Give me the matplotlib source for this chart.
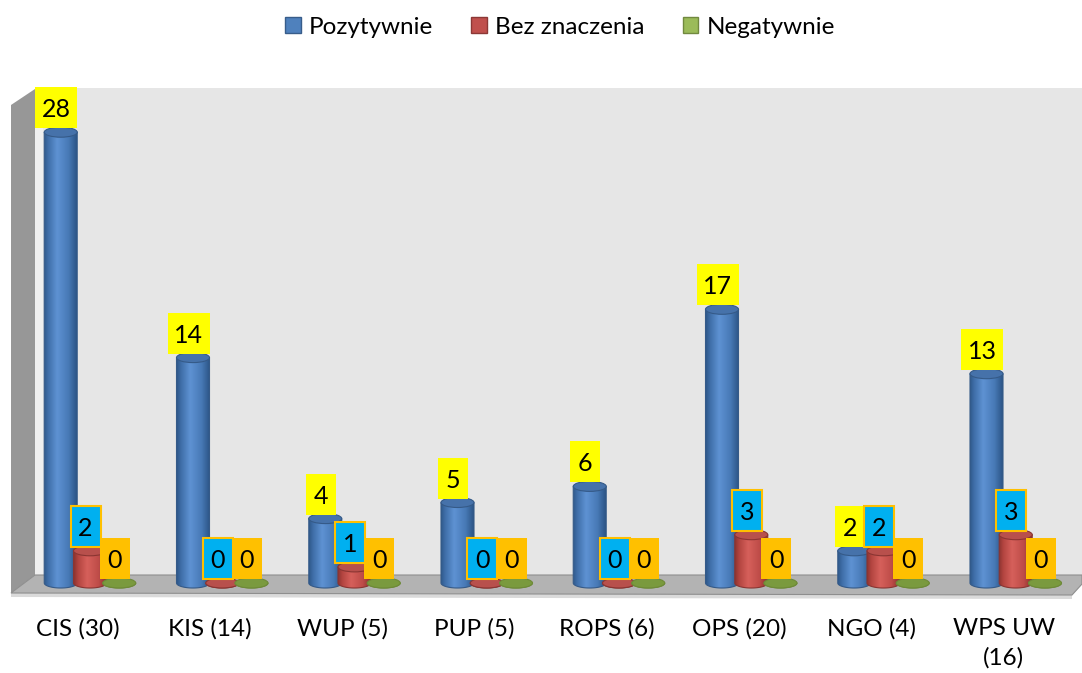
import numpy as np
import matplotlib.pyplot as plt
from matplotlib.colors import to_rgb
from matplotlib.patches import Ellipse, Polygon, Rectangle, Patch

# Ocena wpływu wg typu instytucji
categories = ['CIS (30)', 'KIS (14)', 'WUP (5)', 'PUP (5)', 'ROPS (6)',
              'OPS (20)', 'NGO (4)', 'WPS UW\n(16)']
pozytywnie = [28, 14, 4, 5, 6, 17, 2, 13]
bez_znaczenia = [2, 0, 1, 0, 0, 3, 2, 3]
negatywnie = [0, 0, 0, 0, 0, 0, 0, 0]
series_names = ['Pozytywnie', 'Bez znaczenia', 'Negatywnie']

plt.rcParams['font.family'] = ['Lato', 'DejaVu Sans']

W, H = 1082, 673
fig = plt.figure(figsize=(W / 100, H / 100), dpi=100)
ax = fig.add_axes([0, 0, 1, 1])
ax.set_axis_off()

# one category = 132.25 px, one unit of value = 16.1 px, zero at row 583
X0, XS = 90, 132.25
Y0, YS = 583, 16.1


def fx(px):
    return (px - X0) / XS


def fy(py):
    return (Y0 - py) / YS


BAR_W = 33 / XS
CAP_H = 10 / YS
STEP = 29.25 / XS


def shade(stops, n=64):
    pos = [p for p, _ in stops]
    cols = np.array([to_rgb(c) for _, c in stops])
    t = np.linspace(0, 1, n)
    img = np.stack([np.interp(t, pos, cols[:, k]) for k in range(3)], axis=-1)
    return img[np.newaxis, :, :]


def cylinder(x, v, body, cap, edge, z):
    l, r = x - BAR_W / 2, x + BAR_W / 2
    t = np.linspace(np.pi, 2 * np.pi, 40)
    arc = np.column_stack([x + BAR_W / 2 * np.cos(t), CAP_H / 2 * np.sin(t)])
    outline = np.vstack([[[l, v]], arc, [[r, v]]])
    poly = Polygon(outline, closed=True, facecolor='none', edgecolor=edge,
                   lw=0.8, zorder=z + 0.2)
    ax.add_patch(poly)
    im = ax.imshow(shade(body), extent=(l, r, -CAP_H / 2, v), aspect='auto',
                   interpolation='bilinear', zorder=z)
    im.set_clip_path(poly)
    ax.add_patch(Ellipse((x, v), BAR_W, CAP_H, facecolor=cap, edgecolor=edge,
                         lw=0.8, zorder=z + 0.3))


def value_box(x, v, face, edge, z):
    s = str(v)
    w = (18 + 12 * len(s)) / XS
    h = 41 / YS
    x0 = x - 4.5 / XS - w / 2
    y0 = v + 4 / YS
    ax.add_patch(Rectangle((x0, y0), w, h, facecolor=face,
                           edgecolor=edge if edge else 'none', lw=1.5, zorder=z))
    ax.text(x0 + w / 2, y0 + h / 2, s, ha='center', va='center_baseline',
            fontsize=18, color='black', zorder=z + 0.1)


# walls and floor
ax.add_patch(Rectangle((fx(35), fy(575)), fx(1082) - fx(35), fy(88) - fy(575),
                       facecolor='#E6E6E6', edgecolor='none', zorder=0))
ax.add_patch(Rectangle((fx(35), fy(575)), fx(43) - fx(35), fy(127) - fy(575),
                       facecolor='#EFEFEF', edgecolor='none', zorder=0.1))
ax.add_patch(Polygon([(fx(11), fy(105)), (fx(35), fy(89)), (fx(35), fy(575)),
                      (fx(11), fy(593))], facecolor='#979797', edgecolor='none',
                     zorder=0.2))
ax.add_patch(Polygon([(fx(11), fy(593)), (fx(1072), fy(595)), (fx(1072), fy(599)),
                      (fx(11), fy(597))], facecolor='#DADADA', edgecolor='none',
                     zorder=0.2))
ax.add_patch(Polygon([(fx(35), fy(575)), (fx(1082), fy(575)), (fx(1082), fy(584)),
                      (fx(1072), fy(595)), (fx(11), fy(593))],
                     facecolor='#B3B3B3', edgecolor='#8E8E8E', lw=0.8, zorder=0.3))

styles = [
    dict(body=[(0, '#2F5A8C'), (0.12, '#3F6EA8'), (0.4, '#5E92D3'),
               (0.75, '#4779B6'), (1, '#2C5586')],
         cap='#4672AA', edge='#355A88', box='#FFFF00', box_edge=None),
    dict(body=[(0, '#8E3431'), (0.12, '#B2443F'), (0.4, '#D6605B'),
               (0.75, '#BE4C48'), (1, '#8A302D')],
         cap='#B8504C', edge='#8A3532', box='#00B0F0', box_edge='#FFC000'),
    dict(body=[(0, '#6A8535'), (0.5, '#7E9D42'), (1, '#6A8535')],
         cap='#7A9A3E', edge='#6E8A38', box='#FFC000', box_edge=None),
]
series = [pozytywnie, bez_znaczenia, negatywnie]

for j, (vals, st) in enumerate(zip(series, styles)):
    for i, v in enumerate(vals):
        x = i + (j - 1) * STEP
        cylinder(x, v, st['body'], st['cap'], st['edge'], z=2 + j)
for j, (vals, st) in enumerate(zip(series, styles)):
    for i, v in enumerate(vals):
        x = i + (j - 1) * STEP
        value_box(x, v, st['box'], st['box_edge'], z=10 + j)

for i, name in enumerate(categories):
    ax.text(i - 12 / XS, fy(618), name, ha='center', va='top', fontsize=17.5,
            linespacing=1.45, color='black')

handles = [Patch(facecolor=c, edgecolor=e, lw=1, label=n) for c, e, n in
           zip(['#4F81BD', '#C0504D', '#9BBB59'],
               ['#385D8A', '#8C3836', '#71893F'], series_names)]
fig.legend(handles=handles, loc='upper center', bbox_to_anchor=(0.5176, 0.975),
           ncol=3, frameon=False, fontsize=17.5, handlelength=0.65,
           handleheight=0.65, handletextpad=0.35, columnspacing=1.55,
           borderaxespad=0, borderpad=0)

ax.set_xlim(fx(0), fx(W))
ax.set_ylim(fy(H), fy(0))

fig.savefig('out.png', dpi=100)
